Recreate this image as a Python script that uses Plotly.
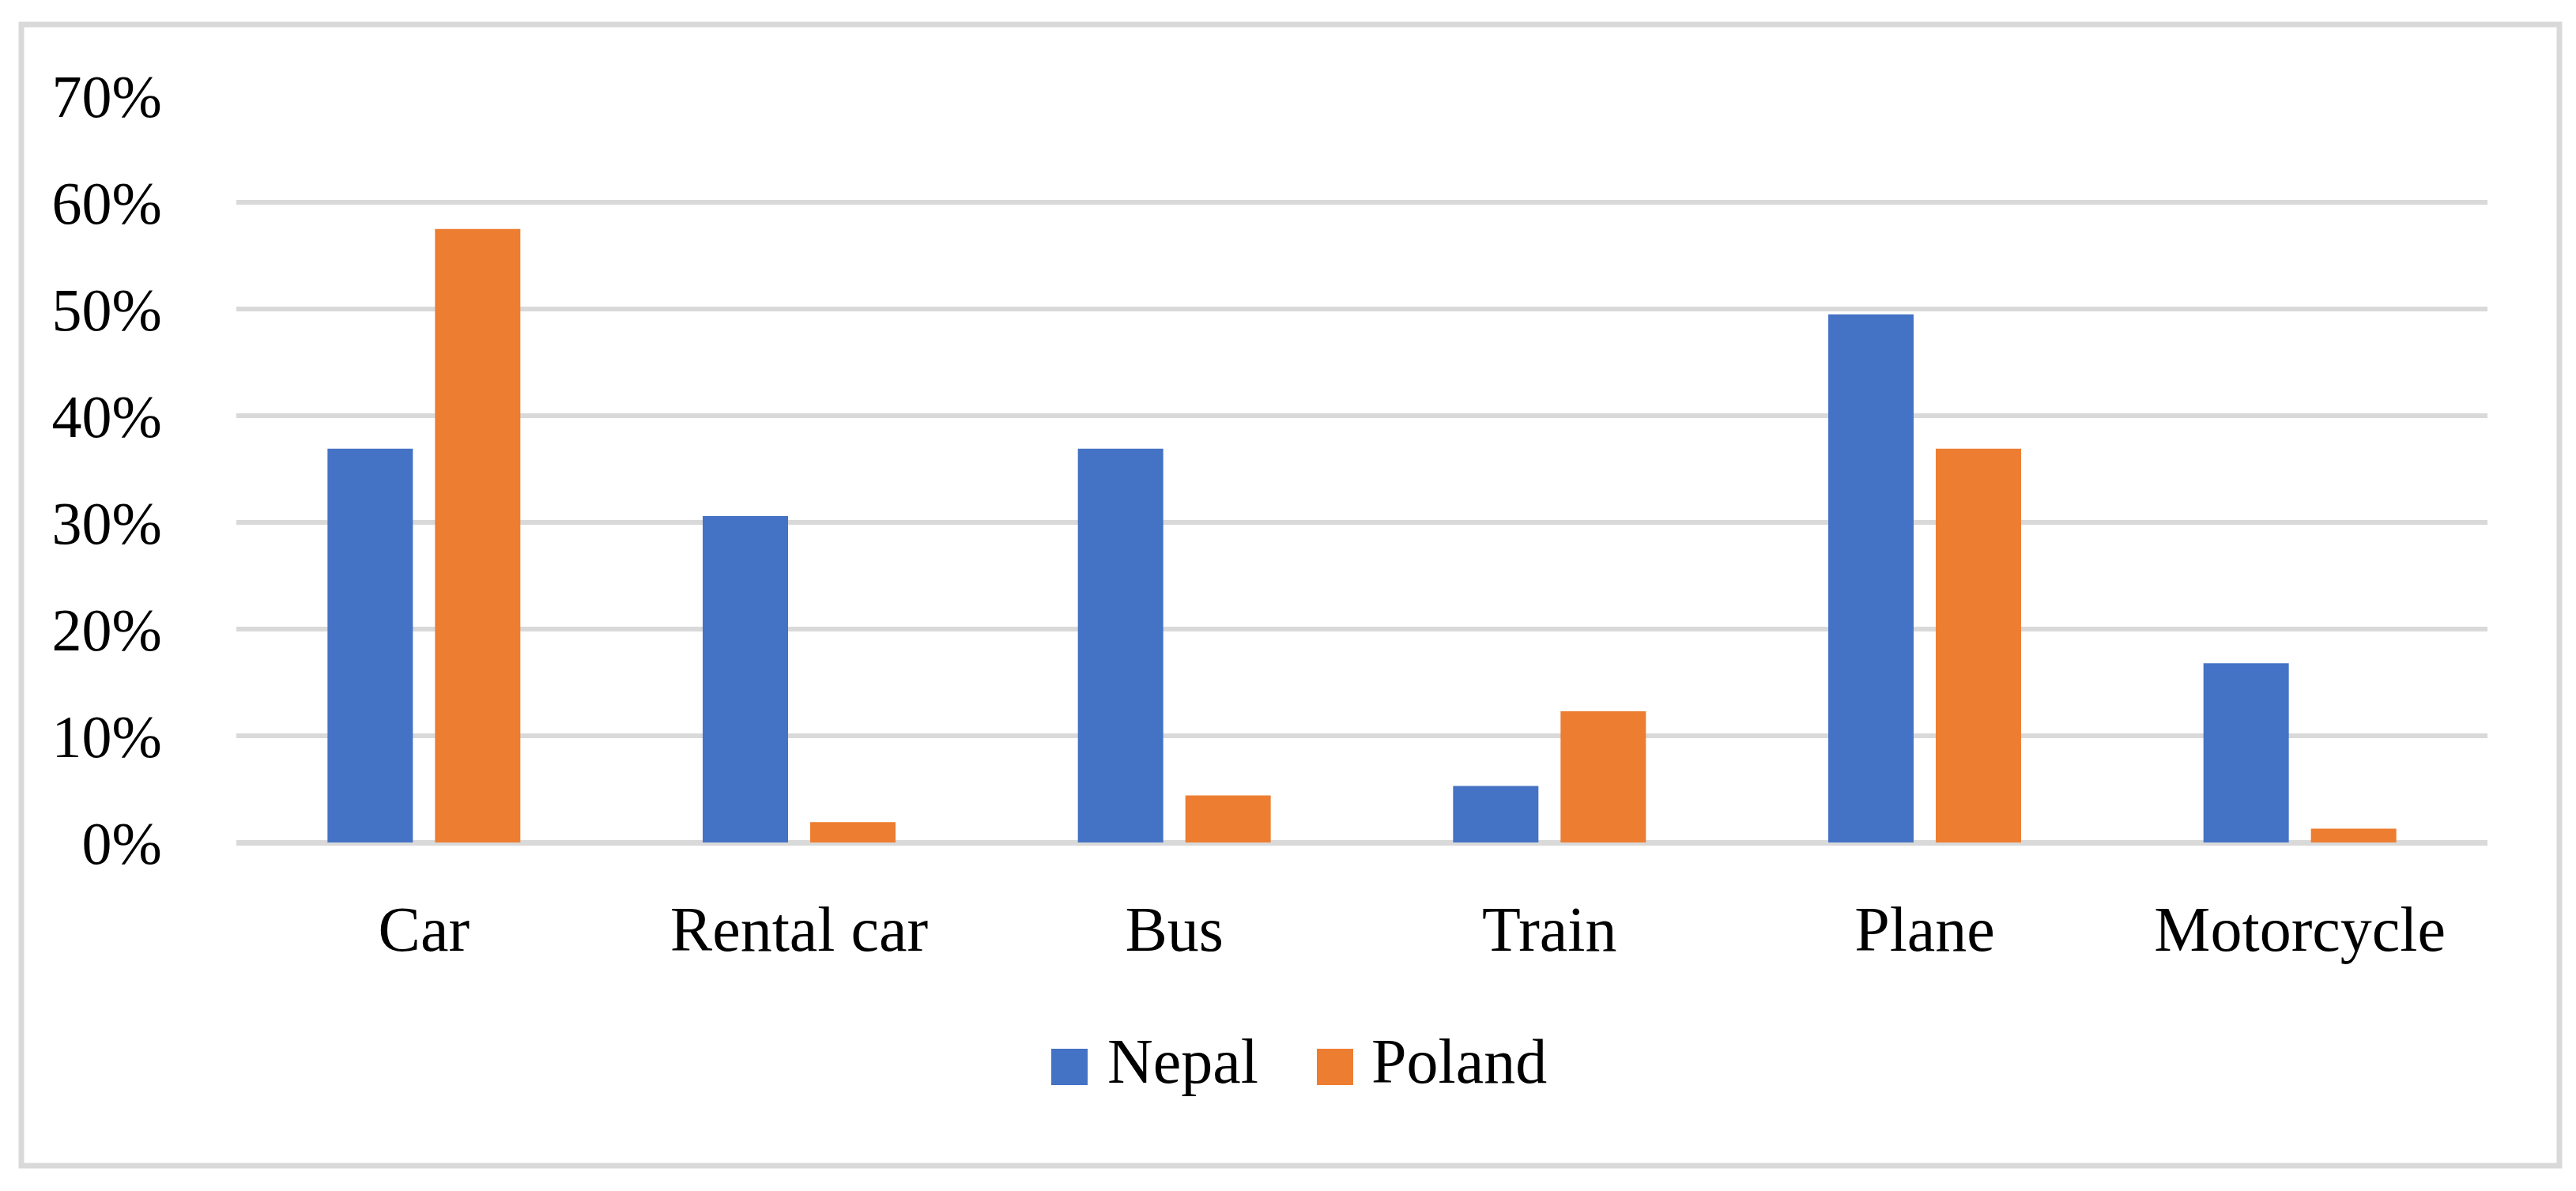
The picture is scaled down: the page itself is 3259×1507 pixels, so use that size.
import plotly.graph_objects as go

categories = ["Car", "Rental car", "Bus", "Train", "Plane", "Motorcycle"]
nepal = [0.369, 0.306, 0.369, 0.053, 0.495, 0.168]
poland = [0.575, 0.019, 0.044, 0.123, 0.369, 0.013]
series_names = ["Nepal", "Poland"]
colors = ["#4472C4", "#ED7D31"]
y_ticks = [0, 0.1, 0.2, 0.3, 0.4, 0.5, 0.6, 0.7]
y_tick_labels = ["0%", "10%", "20%", "30%", "40%", "50%", "60%", "70%"]

W, H = 3259, 1507
L, R, T, B = 291, 120, 113, 449
pw, ph = W - L - R, H - T - B

def px_x(p):
    return (p - L) / pw

def px_y(p):
    return (H - B - p) / ph

FONT = "Liberation Serif"
FS_Y = 76
FS_X = 80

fig = go.Figure()
for name, vals, col in zip(series_names, [nepal, poland], colors):
    fig.add_trace(go.Bar(x=categories, y=vals, name=name, marker=dict(color=col, line=dict(width=0)),
                         showlegend=False))

shapes = []
# outer border
shapes.append(dict(type="rect", xref="paper", yref="paper",
                   x0=px_x(19), x1=px_x(3230), y0=px_y(1467), y1=px_y(23),
                   line=dict(color="#D9D9D9", width=7), fillcolor="rgba(0,0,0,0)", layer="below"))

annotations = []
# custom legend
legend_items = [(1322, 1391), (1658, 1725)]
for (sq_x, tx), name, col in zip(legend_items, series_names, colors):
    shapes.append(dict(type="rect", xref="paper", yref="paper",
                       x0=px_x(sq_x), x1=px_x(sq_x + 46), y0=px_y(1365), y1=px_y(1319),
                       line=dict(width=0), fillcolor=col))
    annotations.append(dict(xref="paper", yref="paper", x=px_x(tx), y=px_y(1335),
                            xanchor="left", yanchor="middle", text=name, showarrow=False,
                            font=dict(family=FONT, size=FS_X, color="#000000")))

fig.update_layout(
    width=W, height=H,
    margin=dict(l=L, r=R, t=T, b=B, pad=0),
    paper_bgcolor="white", plot_bgcolor="white",
    barmode="group", bargap=0.427, bargroupgap=0.206,
    font=dict(family=FONT, size=FS_Y, color="#000000"),
    shapes=shapes, annotations=annotations,
    showlegend=False,
)
fig.update_xaxes(showgrid=False, showline=False, zeroline=False,
                 ticks="outside", ticklen=40, tickcolor="rgba(0,0,0,0)",
                 tickfont=dict(family=FONT, size=FS_X, color="#000000"))
fig.update_yaxes(range=[0, 0.7], tickvals=y_ticks, ticktext=y_tick_labels,
                 showgrid=True, gridcolor="#D9D9D9", gridwidth=6,
                 zeroline=True, zerolinecolor="#D9D9D9", zerolinewidth=7,
                 showline=False, ticks="outside", ticklen=78, tickcolor="rgba(0,0,0,0)",
                 tickfont=dict(family=FONT, size=FS_Y, color="#000000"))

fig.write_html("out.html")
